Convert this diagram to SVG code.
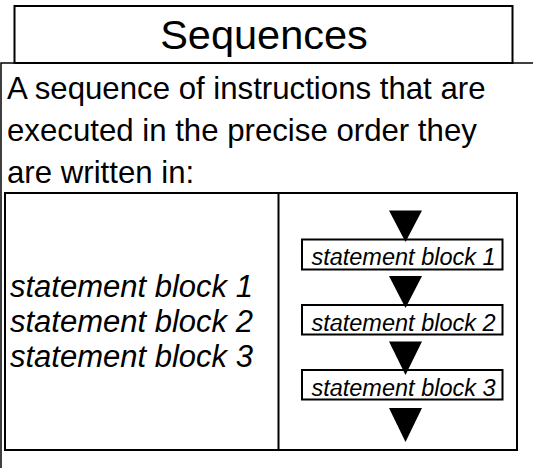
<svg xmlns="http://www.w3.org/2000/svg" width="533" height="468" viewBox="0 0 533 468">
<style>
.box{fill:#fff;stroke:#000;stroke-width:2}
.t{font-family:"Liberation Sans",Arial,sans-serif;fill:#000}
.it{font-style:italic}
.arr{fill:#000}
</style>
<rect width="533" height="468" fill="#fff"/>
<g id="outer">
<rect x="1" y="63" width="560" height="440" fill="#fff" stroke="#000" stroke-width="1.5"/>
<text class="t" x="7" y="99" font-size="31.2">A sequence of instructions that are</text>
<text class="t" x="7" y="141" font-size="31.2">executed in the precise order they</text>
<text class="t" x="7" y="183" font-size="31.2">are written in:</text>
</g>
<g id="title">
<rect class="box" x="14.5" y="6" width="498" height="57"/>
<text class="t" x="264" y="49" font-size="41.5" text-anchor="middle">Sequences</text>
</g>
<g id="table">
<rect class="box" x="5" y="193" width="512" height="257"/>
<line x1="278.5" y1="193" x2="278.5" y2="450" stroke="#000" stroke-width="2"/>
</g>
<g id="left-text">
<text class="t it" x="10" y="297" font-size="31">statement block 1</text>
<text class="t it" x="10" y="332" font-size="31">statement block 2</text>
<text class="t it" x="10" y="367" font-size="31">statement block 3</text>
</g>
<g id="block1">
<rect class="box" x="302" y="239.5" width="200.5" height="30" stroke-width="1.5"/>
<text class="t it" x="403.5" y="265" font-size="23.5" text-anchor="middle">statement block 1</text>
</g>
<g id="block2">
<rect class="box" x="302" y="305" width="200.5" height="29.5" stroke-width="1.5"/>
<text class="t it" x="403.5" y="330.5" font-size="23.5" text-anchor="middle">statement block 2</text>
</g>
<g id="block3">
<rect class="box" x="302" y="370" width="200.5" height="29.5" stroke-width="1.5"/>
<text class="t it" x="403.5" y="395.5" font-size="23.5" text-anchor="middle">statement block 3</text>
</g>
<g id="connectors">
<polygon class="arr" points="389,210.5 422,210.5 405.5,242"/>
<polygon class="arr" points="389,276 422,276 405.5,308"/>
<polygon class="arr" points="389,341.5 422,341.5 405.5,375"/>
<polygon class="arr" points="389,408 422,408 405.5,442"/>
</g>
</svg>
